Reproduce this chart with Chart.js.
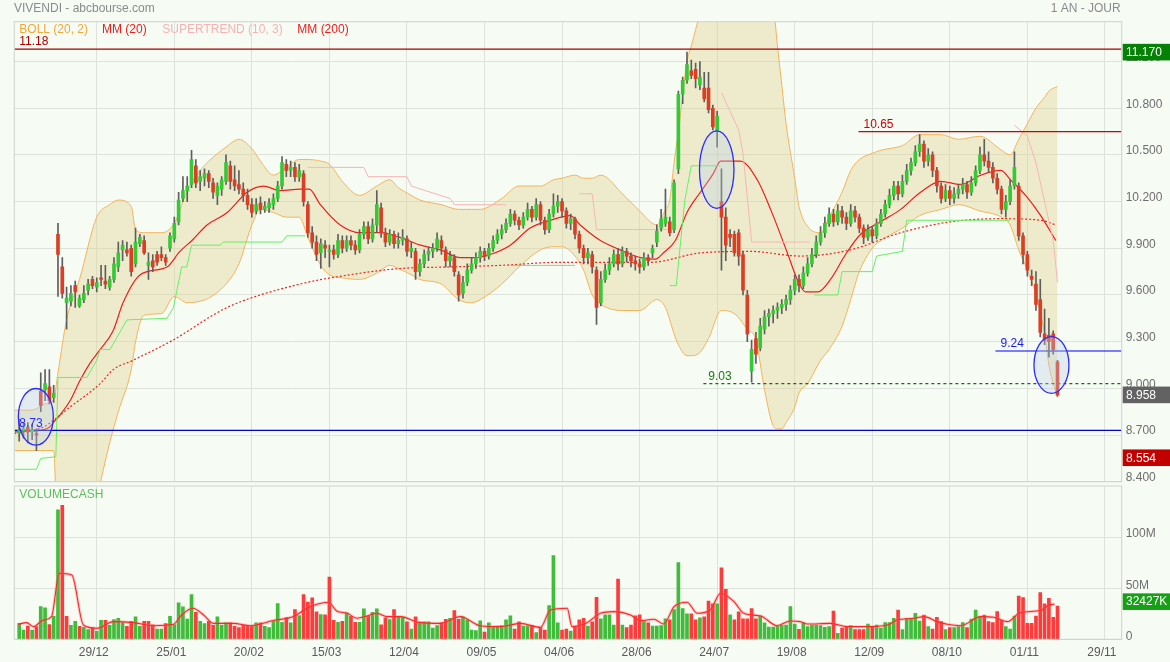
<!DOCTYPE html>
<html><head><meta charset="utf-8">
<script src="https://cdn.jsdelivr.net/npm/chart.js@4.4.1/dist/chart.umd.min.js"></script>
<style>
html,body{margin:0;padding:0;background:#f6fbf4;}
#wrap{position:relative;width:1170px;height:662px;overflow:hidden;}
#c1{position:absolute;left:0;top:0;}
#c2{position:absolute;left:0;top:484px;}
</style></head><body>
<div id="wrap"><canvas id="c1" width="1170" height="484"></canvas><canvas id="c2" width="1170" height="178"></canvas></div>
<script>
// ---------- DATA ----------
const tickIdx = [18,36,54,72,90,108,126,144,162,180,198,216,234,252];
const tickLabels = ['29/12','25/01','20/02','15/03','12/04','09/05','04/06','28/06','24/07','19/08','12/09','08/10','01/11','29/11'];
const priceTicks = [8.4,8.7,9.0,9.3,9.6,9.9,10.2,10.5,10.8,11.1];
const volTicks = [0,50,100];

const opens = [8.71,8.73,8.75,8.72,8.71,8.98,8.99,9.01,8.94,9.99,
9.78,9.55,9.56,9.66,9.53,9.57,9.63,9.70,9.65,9.71,
9.69,9.65,9.70,9.78,9.89,9.89,9.90,9.80,9.93,9.95,
9.79,9.82,9.86,9.86,9.84,9.90,9.96,10.07,10.22,10.27,
10.31,10.43,10.33,10.35,10.38,10.32,10.24,10.28,10.33,10.43,
10.34,10.31,10.28,10.24,10.18,10.14,10.19,10.15,10.16,10.18,
10.22,10.30,10.44,10.40,10.42,10.36,10.38,10.18,10.00,9.94,
9.87,9.92,9.88,9.89,9.86,9.95,9.90,9.95,9.92,9.89,
9.99,10.04,9.96,10.05,10.16,10.00,9.94,9.99,9.93,9.95,
9.96,9.88,9.88,9.75,9.80,9.86,9.88,9.90,9.95,9.89,
9.82,9.84,9.73,9.61,9.68,9.76,9.80,9.84,9.88,9.85,
9.90,9.95,9.99,10.02,10.06,10.12,10.08,10.05,10.10,10.15,
10.10,10.18,10.08,10.02,10.12,10.17,10.20,10.14,10.06,10.09,
9.99,9.90,9.84,9.86,9.76,9.55,9.70,9.76,9.80,9.86,
9.80,9.88,9.85,9.82,9.80,9.78,9.84,9.87,9.94,10.03,
10.06,10.07,10.02,10.41,10.89,10.98,11.04,11.05,10.95,10.93,
10.93,10.80,10.65,10.20,10.10,9.99,9.99,10.00,9.86,9.60,
9.11,9.32,9.26,9.38,9.46,9.48,9.50,9.52,9.54,9.57,
9.63,9.70,9.66,9.74,9.80,9.86,9.94,10.00,10.06,10.12,
10.07,10.14,10.10,10.06,10.14,10.10,10.03,9.97,10.02,9.98,
10.06,10.12,10.18,10.24,10.30,10.25,10.33,10.40,10.45,10.52,
10.57,10.46,10.50,10.40,10.30,10.22,10.27,10.22,10.25,10.28,
10.31,10.26,10.32,10.40,10.50,10.46,10.42,10.35,10.28,10.15,
10.20,10.30,10.30,9.98,9.86,9.72,9.67,9.57,9.35,9.34,
9.35,9.17];
const highs = [8.80,8.78,8.78,8.77,8.74,9.10,9.12,9.12,9.02,10.06,
9.84,9.65,9.66,9.69,9.60,9.66,9.70,9.72,9.71,9.79,
9.79,9.72,9.84,9.94,9.95,9.94,9.92,10.03,9.99,9.98,
9.87,9.86,9.88,9.91,9.86,10.00,10.10,10.26,10.36,10.36,
10.53,10.47,10.40,10.41,10.40,10.35,10.32,10.36,10.50,10.46,
10.43,10.40,10.32,10.28,10.22,10.22,10.23,10.20,10.22,10.25,
10.33,10.49,10.47,10.46,10.45,10.44,10.40,10.20,10.04,9.98,
9.96,9.95,9.92,9.92,9.99,9.98,9.98,9.98,9.95,10.02,
10.07,10.07,10.09,10.27,10.19,10.03,10.02,10.01,10.00,10.02,
9.98,9.94,9.90,9.83,9.89,9.91,9.93,10.00,9.98,9.91,
9.88,9.86,9.75,9.72,9.80,9.84,9.87,9.91,9.90,9.93,
9.98,10.02,10.05,10.09,10.15,10.14,10.10,10.13,10.19,10.17,
10.22,10.20,10.10,10.15,10.25,10.24,10.22,10.16,10.12,10.10,
10.01,9.92,9.90,9.88,9.78,9.75,9.80,9.84,9.89,9.90,
9.91,9.90,9.87,9.85,9.83,9.87,9.86,9.92,10.05,10.15,
10.28,10.10,10.34,10.91,11.00,11.16,11.11,11.09,11.10,11.03,
11.03,10.82,10.78,10.41,10.16,10.02,10.01,10.02,9.88,9.63,
9.31,9.36,9.45,9.50,9.51,9.53,9.55,9.57,9.60,9.66,
9.73,9.73,9.78,9.84,9.90,9.98,10.04,10.10,10.16,10.15,
10.18,10.17,10.13,10.18,10.17,10.12,10.05,10.05,10.04,10.09,
10.15,10.21,10.28,10.33,10.33,10.37,10.44,10.48,10.56,10.63,
10.59,10.54,10.52,10.42,10.32,10.31,10.30,10.29,10.31,10.35,
10.33,10.36,10.43,10.55,10.60,10.52,10.45,10.38,10.30,10.24,
10.34,10.52,10.32,10.00,9.88,9.76,9.75,9.70,9.51,9.45,
9.37,9.18];
const lows = [8.66,8.68,8.65,8.67,8.60,8.85,8.92,8.90,8.91,9.59,
9.58,9.38,9.53,9.52,9.52,9.55,9.60,9.64,9.62,9.66,
9.64,9.63,9.68,9.75,9.82,9.85,9.72,9.78,9.91,9.86,
9.70,9.75,9.79,9.82,9.79,9.88,9.94,10.05,10.20,10.20,
10.29,10.29,10.27,10.30,10.29,10.22,10.18,10.24,10.31,10.28,
10.27,10.25,10.20,10.15,10.10,10.12,10.12,10.13,10.13,10.15,
10.20,10.28,10.36,10.36,10.33,10.33,10.17,9.97,9.90,9.82,
9.77,9.84,9.78,9.83,9.84,9.87,9.88,9.89,9.86,9.87,
9.96,9.93,9.94,10.00,9.97,9.91,9.92,9.90,9.90,9.92,
9.85,9.84,9.70,9.72,9.78,9.82,9.84,9.88,9.86,9.78,
9.78,9.72,9.56,9.58,9.66,9.74,9.77,9.81,9.82,9.83,
9.88,9.93,9.96,10.00,10.04,10.05,10.02,10.03,10.08,10.07,
10.08,10.05,9.99,10.00,10.10,10.13,10.10,10.03,10.02,9.96,
9.87,9.80,9.80,9.74,9.41,9.53,9.68,9.73,9.78,9.76,
9.78,9.81,9.78,9.76,9.74,9.76,9.79,9.84,9.91,10.01,
10.04,9.98,10.00,10.38,10.83,10.96,10.99,10.93,10.92,10.84,
10.77,10.66,10.55,9.76,9.82,9.91,9.85,9.79,9.60,9.30,
9.04,9.16,9.24,9.35,9.40,9.42,9.45,9.48,9.50,9.54,
9.60,9.62,9.64,9.72,9.78,9.84,9.92,9.97,10.04,10.04,
10.05,10.06,10.02,10.04,10.07,10.00,9.93,9.95,9.94,9.96,
10.04,10.10,10.16,10.21,10.21,10.23,10.31,10.37,10.43,10.49,
10.42,10.43,10.36,10.26,10.19,10.20,10.18,10.19,10.22,10.25,
10.22,10.24,10.30,10.38,10.43,10.39,10.32,10.25,10.12,10.10,
10.18,10.28,9.95,9.80,9.72,9.66,9.50,9.33,9.28,9.20,
9.22,8.95];
const closes = [8.73,8.74,8.72,8.73,8.70,8.89,9.03,8.92,8.97,9.86,
9.61,9.58,9.61,9.62,9.58,9.61,9.67,9.66,9.68,9.70,
9.67,9.70,9.80,9.87,9.92,9.87,9.75,9.94,9.97,9.87,
9.81,9.78,9.81,9.84,9.81,9.98,10.06,10.21,10.27,10.30,
10.47,10.32,10.36,10.38,10.33,10.26,10.30,10.34,10.45,10.33,
10.30,10.28,10.24,10.18,10.13,10.18,10.15,10.17,10.19,10.22,
10.30,10.45,10.40,10.42,10.36,10.40,10.20,10.00,9.94,9.86,
9.93,9.90,9.88,9.86,9.95,9.90,9.95,9.92,9.89,9.99,
10.04,9.96,10.05,10.18,10.00,9.94,9.99,9.93,9.95,9.97,
9.88,9.90,9.75,9.80,9.86,9.88,9.90,9.96,9.90,9.82,
9.85,9.75,9.60,9.68,9.76,9.80,9.84,9.88,9.85,9.90,
9.95,9.99,10.02,10.06,10.12,10.08,10.05,10.10,10.15,10.10,
10.18,10.08,10.02,10.12,10.17,10.20,10.14,10.06,10.09,9.99,
9.90,9.84,9.87,9.78,9.52,9.70,9.76,9.80,9.86,9.80,
9.88,9.85,9.82,9.80,9.78,9.84,9.82,9.90,10.01,10.09,
10.10,10.00,10.32,10.89,10.98,11.08,11.01,10.99,11.00,10.86,
10.79,10.68,10.75,10.10,9.92,9.97,9.87,9.85,9.63,9.35,
9.25,9.22,9.40,9.46,9.48,9.50,9.52,9.54,9.57,9.63,
9.70,9.66,9.74,9.80,9.86,9.94,10.00,10.06,10.12,10.07,
10.14,10.10,10.06,10.14,10.10,10.03,9.97,10.02,9.98,10.06,
10.12,10.18,10.24,10.30,10.25,10.33,10.40,10.45,10.52,10.57,
10.46,10.50,10.40,10.30,10.22,10.27,10.22,10.25,10.28,10.31,
10.26,10.32,10.40,10.50,10.46,10.42,10.35,10.28,10.15,10.20,
10.30,10.42,9.98,9.86,9.76,9.70,9.54,9.36,9.31,9.30,
9.25,8.958];
// volume in millions
const volumes = [15.7,9.1,13,9,12.4,32,30.7,14.4,22.5,126.8,
131,22.5,13.7,17.6,12.7,11.7,9.5,11.4,7.8,18.6,
18.6,13.7,19.3,20.6,16,12.7,17.6,21.9,12.7,17.6,
17.6,14.1,10.1,10.1,15.4,22.5,14.4,35.6,31.7,19.9,
43.8,26.5,17.6,15.4,17.6,13.7,21.9,13.7,16,16,
12.7,11.4,13.7,13.7,12.7,16,16,12.7,11.4,17.6,
35,16.7,21.2,16,29.1,23.2,43.8,36.3,40.6,26.8,
24.2,24,61,18.6,16.7,17.6,25.8,22.5,16.7,16.7,
29.8,22.5,26.5,29.8,14.1,21,19.3,29.1,21.9,22,
17,10,22,17,17,17,11,13.5,16,19.5,
20.5,28,19.5,22,19,9,8.5,18,7,16,
12,13,13.5,19,23,10,17,13,13.5,13.5,
6.5,11.5,9,33,82,16,9,10,8,13,
19,20.5,13,17,41,20,24,24,14,59,
14,11.5,14,23,24,18,16,13,13,13.5,
20,19,29,75,30,25,25,19,21,22,
37.5,34.6,34.6,70,49,24,19,27,20,20,
30,20,23,16,12,12,13,14,14,32,
15,9.8,16.3,12.4,14,14,13.4,11.8,12.4,27.7,
5.9,11.1,12,13.4,9.5,9.5,9.5,15,12.4,14,
10.8,16.3,16.3,20.5,28.6,9.5,20.5,20.5,25.4,17.9,
23.8,12.4,10.1,21.5,17.3,9.5,11.4,11.4,12.4,16.3,
11.4,19.9,28.6,22.1,23.8,17.3,16.3,27.1,18.9,12.4,
10.1,22.8,42.4,40.8,15.6,15.6,22.8,45.7,34.6,40.2,
21.5,32.4];

// indicators: [candle index, value]
const bbIdx = [-1.2,3,6,8,9,11,14,18,21,23,26,27,29,33,36,39,42,44,48,51,54,56,59,62,65,67,70,72,75,79,83,86,88,91,93,98,102,105,107,112,116,121,124,126,129,131,133,135,140,144,148,150,151,152,153,155,156,158,160,163,166,169,171,173,175,176,177,178,180,181,183,186,188,191,193,195,198,200,205,209,214,218,223,228,230,232,234,236,238,239,241];
const bbUp = [8.86,8.86,8.90,8.93,9.10,9.44,9.70,10.10,10.18,10.21,10.17,10.02,10.00,10.00,10.06,10.27,10.40,10.46,10.55,10.60,10.54,10.46,10.37,10.42,10.47,10.47,10.46,10.44,10.33,10.24,10.30,10.34,10.29,10.24,10.21,10.18,10.15,10.15,10.15,10.22,10.30,10.30,10.34,10.35,10.37,10.35,10.35,10.37,10.25,10.14,10.05,10.15,10.21,10.45,10.65,11.10,11.20,11.40,11.50,11.50,11.50,11.50,11.50,11.50,11.45,11.20,10.95,10.70,10.35,10.17,10.04,10.00,10.10,10.26,10.40,10.47,10.51,10.53,10.56,10.63,10.63,10.60,10.62,10.53,10.50,10.60,10.70,10.80,10.87,10.91,10.94];
const bbLow = [8.60,8.60,8.60,8.60,7.95,7.90,7.90,8.30,8.65,8.85,9.12,9.30,9.47,9.48,9.59,9.55,9.56,9.58,9.67,9.80,10.05,10.15,10.13,10.10,10.10,9.97,9.79,9.73,9.71,9.70,9.74,9.79,9.77,9.73,9.70,9.67,9.57,9.55,9.57,9.67,9.78,9.89,9.91,9.91,9.85,9.76,9.60,9.54,9.50,9.50,9.57,9.52,9.44,9.35,9.28,9.21,9.21,9.23,9.32,9.50,9.48,9.38,9.31,8.99,8.76,8.74,8.74,8.78,8.88,8.97,9.03,9.18,9.25,9.40,9.57,9.75,9.90,9.95,10.03,10.11,10.15,10.18,10.14,10.10,10.05,9.89,9.76,9.60,9.35,9.15,8.94];
const mm20 = [[-1.2,8.72],[4.8,8.73],[7,8.75],[7.9,8.78],[9.5,8.83],[11.8,8.92],[14.1,9.05],[16.4,9.16],[18.8,9.25],[21.8,9.37],[24.1,9.55],[28.1,9.73],[34.3,9.78],[37.3,9.88],[40.1,9.95],[43.6,10.05],[48.3,10.13],[52.9,10.26],[56.7,10.30],[60.6,10.27],[65.2,10.28],[67.3,10.28],[69.9,10.18],[74.5,10.05],[79.2,10.0],[83.8,10.0],[88.4,9.97],[93.1,9.92],[97.7,9.89],[102.4,9.84],[105.8,9.84],[109.3,9.86],[114,9.92],[118.6,10.03],[123.3,10.08],[127.9,10.11],[130.2,10.05],[134.9,9.95],[139.5,9.89],[144.2,9.84],[147.7,9.83],[149.5,9.87],[152.3,9.95],[155,10.13],[158.1,10.26],[161.1,10.38],[162.8,10.46],[165.5,10.46],[167.4,10.46],[171.3,10.34],[174.4,10.15],[178.3,9.87],[180.6,9.70],[182.5,9.62],[185.4,9.62],[188.3,9.70],[191.8,9.86],[195.3,9.99],[199.9,10.07],[204.6,10.15],[209.2,10.26],[213.9,10.33],[218.5,10.31],[223.2,10.37],[227.8,10.40],[230.1,10.34],[233.6,10.24],[237.1,10.11],[240.6,9.95]];
const mm200 = [[-1.2,8.71],[5.5,8.75],[11.8,8.88],[18.8,9.03],[21.8,9.12],[26.4,9.18],[35.7,9.31],[48.3,9.52],[65.2,9.67],[76.8,9.73],[88.4,9.77],[100,9.78],[111.7,9.79],[125.6,9.81],[139.5,9.81],[146.5,9.81],[158.1,9.87],[169.7,9.88],[181.3,9.85],[193,9.89],[204.6,10.0],[216.2,10.07],[227.8,10.09],[237.1,10.08],[240.6,10.05]];
const superUp = [[-1.2,8.48],[4,8.48],[5,8.55],[8.5,8.56],[9,9.07],[15.7,9.07],[18,9.18],[18.8,9.25],[21.1,9.25],[25,9.44],[34.3,9.45],[35.8,9.52],[37.7,9.78],[38.9,9.78],[40,9.92],[46.6,9.92],[47.4,9.94],[61,9.94],[62.1,9.98],[66.4,9.98],null,[114,9.79],[129,9.79],null,[151,9.66],[152.5,9.66],[154.5,10.21],[156,10.43],[162.8,10.43],null,[184.5,9.60],[190,9.60],[191,9.75],[198,9.75],[199,9.85],[205,9.88],[206,10.08],[230,10.08]];
const superDown = [[67,10.42],[80,10.42],[81,10.36],[90,10.36],[91,10.30],[100,10.22],[101,10.18],[113,10.18],null,[130,10.25],[133,10.25],[134,10.02],[151,10.02],null,[163,10.90],[167,10.66],[168,10.51],[170,9.94],[183.5,9.94],null,[231,10.69],[234,10.62],[236,10.45],[238,10.20],[240,9.95],[241,9.68]];
const volMa = [[-0.2,14.7],[1.7,16.3],[3.3,12.4],[5.6,18.9],[7.5,22.2],[9.3,64.7],[12.2,63],[14.9,14.0],[18,10.8],[21.9,17.3],[26.5,16.3],[31.1,13.3],[35.8,14.7],[37.7,23.8],[40.3,30.4],[42.8,23.8],[45.1,15.6],[49.7,15.6],[53.6,13.3],[59,18.4],[63.7,22.3],[66.8,30.4],[69.1,34.3],[71.8,36.3],[73.7,27.7],[76.1,25.5],[78.4,20.6],[80.7,22.8],[83,25.5],[85.4,22.2],[88.4,22.2],[93.1,16.3],[97.7,15.6],[102.4,22.2],[107,13.3],[111.7,12.4],[116.3,15.6],[121,11.7],[123.3,28.7],[127.2,30.4],[128.3,12.4],[131.8,16.3],[134.9,25.5],[138,27.1],[141.9,23.8],[144.2,18.2],[147.3,19.6],[149.6,15],[152,32],[155,36.3],[157.4,25.5],[160.4,28.7],[162.8,45],[165.9,36.8],[168.2,25.5],[172.1,22.8],[175.9,13.3],[179,17.9],[181.3,17.3],[182.9,14.9],[188.3,15.6],[192.2,12.4],[196.8,12.4],[201.5,14.0],[203.8,18.9],[207.7,20.6],[210,22.2],[213.1,17.3],[215.4,14.7],[218.5,13.3],[223.2,22.2],[226.2,21.5],[229.4,17.3],[232.4,26.2],[237.1,28.1],[238.7,32.9],[240.3,34.6]];

// horizontal levels: value, first candle index, label text
const levelValues = [11.18, 8.73, 10.65, 9.24, 9.03];
const levelFrom = [-1.14, -1.14, 194.8, 226.6, 158.8];
const levelTexts = ['11.18','8.73','10.65','9.24','9.03'];
// circled zones: [center index, center price, half width (candles), half height (price)]
const zones = [[3.86,8.817,4.06,0.182],[161.9,10.405,4.0,0.249],[239.6,9.15,4.06,0.182]];
const lastClose = 8.958, yearHigh = 11.17, lowMark = 8.554, lastVolK = 32427;

// ---------- RENDER ----------
const FONT = '"Liberation Sans", Arial, Helvetica, sans-serif';
Chart.defaults.font.family = FONT;
Chart.defaults.font.size = 12;
const XMIN = -1.14, XMAX = 255.9;
const idx = closes.map((_, i) => i);
const pts = arr => { const o = []; let lx = 0; for (const p of arr) { if (p) { o.push({x:p[0], y:p[1]}); lx = p[0]; } else o.push({x:lx + 0.01, y:null}); } return o; };
const GRID = '#dde2dd';
const levelColors = ['#a80000','#0000c8','#d40000','#0000ff','#127012'];
const levelTextColors = ['#b00000','#2a2aff','#d00000','#1a1aff','#1a7a1a'];
const noPad = s => { s.paddingTop = 0; s.paddingBottom = 0; s.paddingLeft = 0; s.paddingRight = 0; };

const xGridOnly = {
  type:'linear', min:XMIN, max:XMAX, offset:false,
  grid:{color:GRID, drawTicks:false, offset:false}, border:{display:false},
  ticks:{display:false},
  afterBuildTicks: s => { s.ticks = tickIdx.map(v => ({value:v})); },
  afterFit: s => { s.height = 0; noPad(s); }
};

const lineBase = {type:'line', pointRadius:0, borderWidth:1, fill:false, spanGaps:false};

const datasets1 = [
  {...lineBase, data: bbIdx.map((x,k)=>({x, y:bbUp[k]})), borderColor:'#f2b35c', fill:'+1', backgroundColor:'rgba(228,212,145,0.40)', cubicInterpolationMode:'monotone', order:20},
  {...lineBase, data: bbIdx.map((x,k)=>({x, y:bbLow[k]})), borderColor:'#f2b35c', cubicInterpolationMode:'monotone', order:19},
  {...lineBase, data: pts(mm200), borderColor:'#ee2222', borderWidth:1.2, borderDash:[2,2], cubicInterpolationMode:'monotone', order:8},
  {...lineBase, data: pts(mm20), borderColor:'#ee1c1c', borderWidth:1.2, cubicInterpolationMode:'monotone', order:7},
  {...lineBase, data: pts(superUp), borderColor:'#66ee66', order:6},
  {...lineBase, data: pts(superDown), borderColor:'#f6b4b4', order:6},
];
levelValues.forEach((v,k) => {
  datasets1.push({...lineBase, data:[{x:levelFrom[k], y:v},{x:XMAX, y:v}], borderColor:levelColors[k], borderWidth:1.2, borderDash: k===4 ? [3,3] : [], order:5});
});
datasets1.push({type:'bar', data: idx.map(i => ({x:i, y:[lows[i], highs[i]]})), backgroundColor:'#5e5e5e', barThickness:1, grouped:false, order:2});
datasets1.push({type:'bar', data: idx.map(i => ({x:i, y:[Math.min(opens[i],closes[i]), Math.max(opens[i],closes[i])]})),
  backgroundColor: idx.map(i => closes[i] >= opens[i] ? '#35c935' : '#dc3d25'), barThickness:3, minBarLength:1, grouped:false, order:1});

function txt(ctx, s, x, y, color, align) {
  ctx.fillStyle = color; ctx.textAlign = align || 'left'; ctx.textBaseline = 'middle'; ctx.fillText(s, x, y);
}
function box(ctx, s, y, color) {
  ctx.fillStyle = color; ctx.fillRect(1122.7, y - 8.3, 48, 16.6);
  txt(ctx, s, 1126, y + 0.5, '#ffffff');
}

const decor1 = {
  id:'decor1',
  afterDatasetsDraw(chart) {
    const {ctx, scales:{x, y}} = chart;
    ctx.save();
    zones.forEach(z => {
      const cx = x.getPixelForValue(z[0]), cy = y.getPixelForValue(z[1]);
      const rx = x.getPixelForValue(z[0] + z[2]) - cx, ry = cy - y.getPixelForValue(z[1] + z[3]);
      ctx.beginPath(); ctx.ellipse(cx, cy, rx, ry, 0, 0, Math.PI * 2);
      ctx.fillStyle = 'rgba(185,205,235,0.33)'; ctx.fill();
      ctx.lineWidth = 1.3; ctx.strokeStyle = '#2b2bff'; ctx.stroke();
    });
    ctx.font = '12px ' + FONT;
    levelValues.forEach((v,k) => {
      txt(ctx, levelTexts[k], x.getPixelForValue(levelFrom[k]) + 5, y.getPixelForValue(v) - 7, levelTextColors[k]);
    });
    ctx.restore();
  },
  afterDraw(chart) {
    const {ctx, chartArea:a, scales:{y}} = chart;
    ctx.save();
    ctx.strokeStyle = '#cdd3cd'; ctx.lineWidth = 1;
    ctx.strokeRect(a.left, a.top, a.right - a.left, a.bottom - a.top);
    ctx.font = '12px ' + FONT;
    txt(ctx, 'VIVENDI - abcbourse.com', 14, 9, '#8a8a8a');
    txt(ctx, '1 AN - JOUR', 1120.7, 8.5, '#8a8a8a', 'right');
    txt(ctx, 'BOLL (20, 2)', 19.3, 29.3, '#f0a838');
    txt(ctx, 'MM (20)', 102, 29.3, '#ee1c1c');
    txt(ctx, 'SUPERTREND (10, 3)', 162.3, 29.3, '#f6b2b2');
    txt(ctx, 'MM (200)', 297.3, 29.3, '#ee1c1c');
    box(ctx, yearHigh.toFixed(3), y.getPixelForValue(yearHigh) + 1.5, '#058205');
    box(ctx, lastClose.toFixed(3), y.getPixelForValue(lastClose), '#626262');
    box(ctx, lowMark.toFixed(3), y.getPixelForValue(lowMark), '#c20000');
    ctx.restore();
  }
};

new Chart(document.getElementById('c1'), {
  type:'bar',
  data:{datasets:datasets1},
  options:{
    responsive:false, animation:false, events:[],
    layout:{padding:{left:14.3, top:21.7, right:0, bottom:2.3}},
    plugins:{legend:{display:false}, tooltip:{enabled:false}},
    scales:{
      x: xGridOnly,
      y: {position:'right', min:8.4, max:11.356,
          afterBuildTicks: s => { s.ticks = priceTicks.map(v => ({value:v})); },
          ticks:{callback: v => v.toFixed(3), color:'#6e6e6e', padding:4, labelOffset:-4, font:{size:12}},
          grid:{color:GRID, drawTicks:false}, border:{display:false},
          afterFit: s => { s.width = 48.3; noPad(s); }}
    }
  },
  plugins:[decor1]
});

// ---------- VOLUME PANEL ----------
const volColors = idx.map(i => (i === 0 || closes[i] >= closes[i-1]) ? '#40bb3a' : '#ff3a3a');
const decor2 = {
  id:'decor2',
  afterDraw(chart) {
    const {ctx, chartArea:a, scales:{y}} = chart;
    ctx.save();
    ctx.strokeStyle = '#cdd3cd'; ctx.lineWidth = 1;
    ctx.strokeRect(a.left, a.top, a.right - a.left, a.bottom - a.top);
    ctx.font = '12px ' + FONT;
    txt(ctx, 'VOLUMECASH', 19.3, 11, '#5cbf5c');
    box(ctx, lastVolK + 'K', y.getPixelForValue(lastVolK / 1000) - 4.5, '#16a016');
    ctx.restore();
  }
};
new Chart(document.getElementById('c2'), {
  type:'bar',
  data:{datasets:[
    {...lineBase, data: pts(volMa), borderColor:'rgba(255,110,110,0.35)', borderWidth:3, cubicInterpolationMode:'monotone', order:1},
    {...lineBase, data: pts(volMa), borderColor:'#ff2424', borderWidth:1.1, cubicInterpolationMode:'monotone', order:0},
    {type:'bar', data: idx.map(i => ({x:i, y:volumes[i]})), backgroundColor: volColors, barThickness:3, grouped:false, order:2}
  ]},
  options:{
    responsive:false, animation:false, events:[],
    layout:{padding:{left:14.3, top:2, right:0, bottom:0}},
    plugins:{legend:{display:false}, tooltip:{enabled:false}},
    scales:{
      x: {type:'linear', min:XMIN, max:XMAX, offset:false,
          grid:{color:GRID, drawTicks:false, offset:false}, border:{display:false},
          afterBuildTicks: s => { s.ticks = tickIdx.map(v => ({value:v})); },
          ticks:{autoSkip:false, maxRotation:0, padding:6, labelOffset:-3, color:'#5a5a5a', font:{size:12},
                 callback: v => { const k = tickIdx.indexOf(v); return k >= 0 ? tickLabels[k] : ''; }},
          afterFit: s => { s.height = 22.7; noPad(s); }},
      y: {position:'right', min:0, max:150,
          afterBuildTicks: s => { s.ticks = volTicks.map(v => ({value:v})); },
          ticks:{callback: v => v === 0 ? '0' : v + 'M', color:'#6e6e6e', padding:4, labelOffset:-3, font:{size:12}},
          grid:{color:GRID, drawTicks:false}, border:{display:false},
          afterFit: s => { s.width = 48.3; noPad(s); }}
    }
  },
  plugins:[decor2]
});
</script>
</body></html>
